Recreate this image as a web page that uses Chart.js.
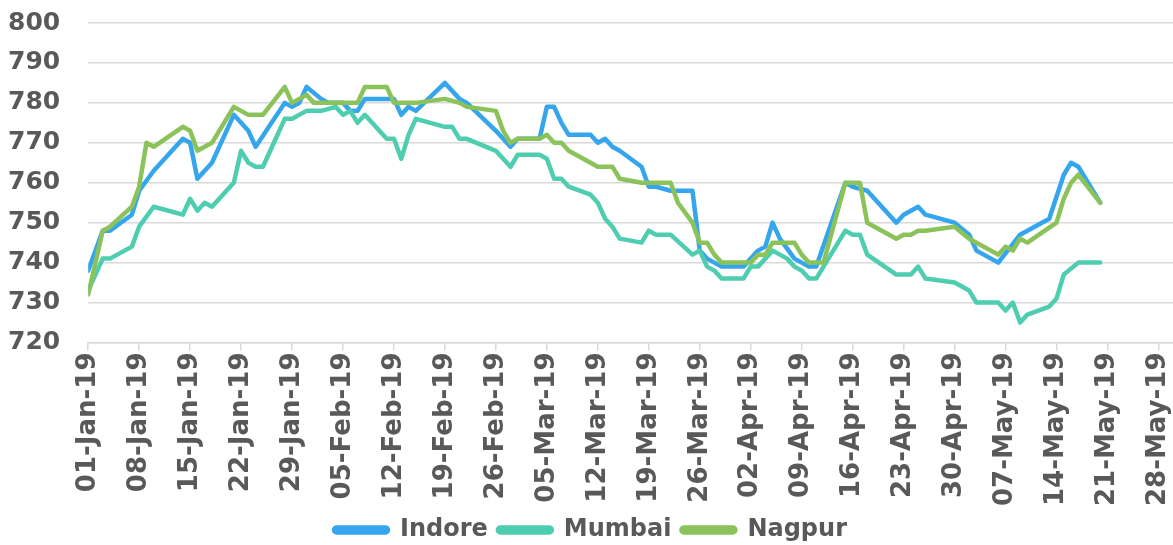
<!DOCTYPE html>
<html lang="en">
<head>
  <meta charset="UTF-8">
  <title>Indore, Mumbai, Nagpur prices</title>
  <script src="https://cdn.jsdelivr.net/npm/chart.js@4.4.1/dist/chart.umd.min.js"></script>
  <style>
    html, body {
      margin: 0;
      padding: 0;
      background: #fff;
    }

    .chart-box {
      width: 1173px;
      height: 545px;
      position: relative;
    }
  </style>
</head>
<body>
  <div class="chart-box">
    <canvas id="priceChart"></canvas>
  </div>

  <script>
    // week tick labels, one every 7 days from 01-Jan-19
    const weekLabels = ['01-Jan-19', '08-Jan-19', '15-Jan-19', '22-Jan-19', '29-Jan-19', '05-Feb-19',
      '12-Feb-19', '19-Feb-19', '26-Feb-19', '05-Mar-19', '12-Mar-19', '19-Mar-19', '26-Mar-19',
      '02-Apr-19', '09-Apr-19', '16-Apr-19', '23-Apr-19', '30-Apr-19', '07-May-19', '14-May-19',
      '21-May-19', '28-May-19'];

    // [days since 01-Jan-19, price]
    const indore = [[0, 738], [2, 748], [3, 748], [6, 752], [7, 758], [9, 763], [13, 771], [14, 770],
      [15, 761], [17, 765], [20, 777], [22, 773], [23, 769], [27, 780], [28, 779], [29, 780], [30, 784],
      [32, 781], [33, 780], [35, 780], [36, 778], [37, 778], [38, 781], [42, 781], [43, 777], [44, 779],
      [45, 778], [49, 785], [51, 781], [52, 780], [56, 773], [58, 769], [59, 771], [62, 771], [63, 779],
      [64, 779], [65, 775], [66, 772], [69, 772], [70, 770], [71, 771], [72, 769], [73, 768], [76, 764],
      [77, 759], [78, 759], [80, 758], [83, 758], [84, 743], [85, 741], [87, 739], [90, 739], [92, 743],
      [93, 744], [94, 750], [95, 746], [97, 741], [99, 739], [100, 739], [104, 760], [105, 759],
      [107, 758], [111, 750], [112, 752], [114, 754], [115, 752], [119, 750], [121, 747], [122, 743],
      [125, 740], [128, 747], [132, 751], [134, 762], [135, 765], [136, 764], [139, 755]];

    const mumbai = [[0, 733], [2, 741], [3, 741], [6, 744], [7, 749], [9, 754], [13, 752], [14, 756],
      [15, 753], [16, 755], [17, 754], [20, 760], [21, 768], [22, 765], [23, 764], [24, 764], [27, 776],
      [28, 776], [30, 778], [32, 778], [34, 779], [35, 777], [36, 778], [37, 775], [38, 777], [41, 771],
      [42, 771], [43, 766], [44, 772], [45, 776], [49, 774], [50, 774], [51, 771], [52, 771], [56, 768],
      [58, 764], [59, 767], [62, 767], [63, 766], [64, 761], [65, 761], [66, 759], [69, 757], [70, 755],
      [71, 751], [72, 749], [73, 746], [76, 745], [77, 748], [78, 747], [80, 747], [83, 742], [84, 743],
      [85, 739], [86, 738], [87, 736], [90, 736], [91, 739], [92, 739], [94, 743], [96, 741], [97, 739],
      [98, 738], [99, 736], [100, 736], [104, 748], [105, 747], [106, 747], [107, 742], [111, 737],
      [113, 737], [114, 739], [115, 736], [119, 735], [121, 733], [122, 730], [125, 730], [126, 728],
      [127, 730], [128, 725], [129, 727], [132, 729], [133, 731], [134, 737], [136, 740], [139, 740]];

    const nagpur = [[0, 732], [2, 748], [3, 749], [6, 754], [7, 759], [8, 770], [9, 769], [13, 774],
      [14, 773], [15, 768], [17, 770], [20, 779], [22, 777], [24, 777], [27, 784], [28, 780], [30, 782],
      [31, 780], [37, 780], [38, 784], [41, 784], [42, 780], [45, 780], [49, 781], [51, 780], [52, 779],
      [56, 778], [57, 773], [58, 770], [59, 771], [62, 771], [63, 772], [64, 770], [65, 770], [66, 768],
      [70, 764], [72, 764], [73, 761], [76, 760], [80, 760], [81, 755], [83, 750], [84, 745], [85, 745],
      [86, 742], [87, 740], [91, 740], [92, 742], [93, 742], [94, 745], [97, 745], [98, 742], [99, 740],
      [101, 740], [104, 760], [106, 760], [107, 750], [111, 746], [112, 747], [113, 747], [114, 748],
      [115, 748], [119, 749], [121, 746], [125, 742], [126, 744], [127, 743], [128, 746], [129, 745],
      [133, 750], [134, 756], [135, 760], [136, 762], [139, 755]];

    const textColor = '#595959';
    const gridColor = '#d9d9d9';
    const fontFamily = '"DejaVu Sans", sans-serif';

    function toPoints(pairs) {
      return pairs.map(p => ({ x: p[0], y: p[1] }));
    }

    function lineSet(label, pairs, color, order) {
      return {
        label: label,
        data: toPoints(pairs),
        borderColor: color,
        backgroundColor: color,
        borderWidth: 4.5,
        borderJoinStyle: 'round',
        borderCapStyle: 'round',
        pointRadius: 0,
        tension: 0,
        fill: false,
        order: order
      };
    }

    const ctx = document.getElementById('priceChart').getContext('2d');
    new Chart(ctx, {
      type: 'line',
      data: {
        datasets: [
          lineSet('Indore', indore, '#35a5ee', 2),
          lineSet('Mumbai', mumbai, '#4ecdb0', 1),
          lineSet('Nagpur', nagpur, '#8bc35a', 0)
        ]
      },
      options: {
        responsive: true,
        maintainAspectRatio: false,
        animation: false,
        layout: {
          padding: { left: 8, right: 0, top: 23, bottom: -7 }
        },
        scales: {
          x: {
            type: 'linear',
            min: 0,
            max: 149,
            afterBuildTicks: axis => {
              axis.ticks = weekLabels.map((_, i) => ({ value: i * 7 }));
            },
            // keep the plot running to the right edge like the original
            afterFit: axis => {
              axis.paddingLeft = 0;
              axis.paddingRight = 0;
            },
            ticks: {
              autoSkip: false,
              minRotation: 90,
              maxRotation: 90,
              padding: 2,
              color: textColor,
              font: { family: fontFamily, size: 26, weight: 'bold' },
              callback: value => weekLabels[Math.round(value / 7)]
            },
            grid: {
              drawOnChartArea: false,
              drawTicks: true,
              tickLength: 8,
              color: gridColor,
              lineWidth: 1.5
            },
            border: { display: true, color: gridColor, width: 1.5 }
          },
          y: {
            min: 720,
            max: 800,
            afterFit: axis => {
              axis.paddingTop = 0;
              axis.paddingBottom = 0;
            },
            ticks: {
              stepSize: 10,
              padding: 0,
              color: textColor,
              font: { family: fontFamily, size: 25, weight: 'bold' }
            },
            grid: {
              drawTicks: true,
              tickLength: 28,
              tickColor: 'rgba(0,0,0,0)',
              color: gridColor,
              lineWidth: 1.5
            },
            border: { display: false }
          }
        },
        plugins: {
          legend: {
            display: true,
            position: 'bottom',
            labels: {
              color: textColor,
              font: { family: fontFamily, size: 24, weight: 'bold' },
              boxWidth: 54,
              boxHeight: 5,
              padding: 10,
              useBorderRadius: true,
              borderRadius: 2.5,
              sort: (a, b) => a.datasetIndex - b.datasetIndex
            }
          },
          tooltip: { enabled: false }
        }
      }
    });
  </script>
</body>
</html>
